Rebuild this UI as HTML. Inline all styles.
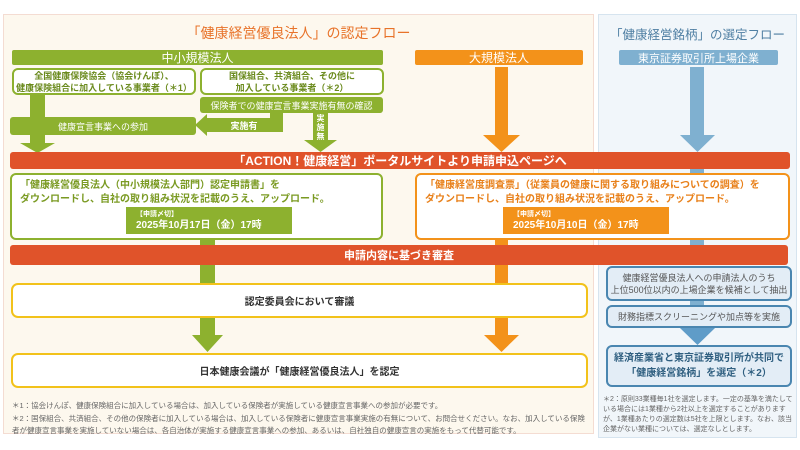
<!DOCTYPE html>
<html><head><meta charset="utf-8"><style>
body{margin:0;width:800px;height:450px;background:#fff;position:relative;overflow:hidden;font-family:"Liberation Sans","Noto Sans CJK JP",sans-serif;}
div{position:absolute;box-sizing:border-box;}
.c{display:flex;align-items:center;justify-content:center;text-align:center;}
.g{background:#8db12f;color:#fff;}
.o{background:#f3921a;color:#fff;}
.r{background:#e0532a;color:#fff;font-weight:bold;border-radius:3px;}
.b{background:#7fb0d0;color:#fff;}
.wg{background:#fff;border:2px solid #8db12f;border-radius:6px;color:#6a8a1c;font-weight:bold;font-size:9px;line-height:12px;}
.yb{background:#fff;border:2.5px solid #f2c21a;border-radius:7px;font-size:10px;font-weight:bold;color:#333;}
.bb{background:#e3edf6;border:2.5px solid #4a86b0;border-radius:6px;color:#555;font-size:9px;line-height:12px;}
</style></head><body>
<div style="left:3px;top:14px;width:591px;height:420px;background:#fdf8ee;border:1.5px solid #f4dcd2;"></div>
<div style="left:598px;top:14px;width:199px;height:424px;background:#f1f6fa;border:1.5px solid #d6e4ef;"></div>
<div class="c" style="left:3px;top:22px;width:591px;height:22px;color:#e8732a;font-size:14px;">「健康経営優良法人」の認定フロー</div>
<div class="c" style="left:598px;top:22px;width:199px;height:22px;color:#4f7fa3;font-size:12.5px;white-space:nowrap;">「健康経営銘柄」の選定フロー</div>

<div class="g c" style="left:12px;top:50px;width:371px;height:15px;font-size:12px;border-radius:2px;">中小規模法人</div>
<div class="wg c" style="left:12px;top:68px;width:184px;height:27px;">全国健康保険協会（協会けんぽ）、<br>健康保険組合に加入している事業者（＊1）</div>
<div class="wg c" style="left:200px;top:68px;width:184px;height:27px;">国保組合、共済組合、その他に<br>加入している事業者（＊2）</div>
<div class="g c" style="left:200px;top:97px;width:183px;height:16px;font-size:9px;border-radius:3px;">保険者での健康宣言事業実施有無の確認</div>
<div class="g c" style="left:10px;top:117px;width:186px;height:18px;font-size:9px;border-radius:3px;">健康宣言事業への参加</div>
<div class="g" style="left:270px;top:113px;width:13px;height:19px;"></div>
<div class="g c" style="left:205px;top:118px;width:78px;height:14px;font-size:9px;font-weight:bold;">実施有</div>
<svg style="position:absolute;left:195px;top:114px" width="12" height="22"><polygon points="0,11 12,0 12,22" fill="#8db12f"/></svg>
<div class="g c" style="left:313px;top:113px;width:15px;height:28px;font-size:8px;line-height:9px;font-weight:bold;">実<br>施<br>無</div>
<svg style="position:absolute;left:304px;top:140px" width="33" height="12"><polygon points="0,0 33,0 16.5,12" fill="#8db12f"/></svg>
<div class="g" style="left:30px;top:95px;width:15px;height:48px;"></div>
<svg style="position:absolute;left:20px;top:143px" width="35" height="10"><polygon points="0,0 35,0 17.5,10" fill="#8db12f"/></svg>

<div class="o c" style="left:415px;top:50px;width:168px;height:15px;font-size:12px;border-radius:2px;">大規模法人</div>
<div class="o" style="left:495px;top:67px;width:13px;height:68px;"></div>
<svg style="position:absolute;left:483px;top:135px" width="37" height="17"><polygon points="0,0 37,0 18.5,17" fill="#f3921a"/></svg>
<div class="b c" style="left:619px;top:50px;width:159px;height:15px;font-size:11px;border-radius:2px;">東京証券取引所上場企業</div>
<div class="b" style="left:690px;top:67px;width:14px;height:68px;"></div>
<svg style="position:absolute;left:680px;top:135px" width="35" height="17"><polygon points="0,0 35,0 17.5,17" fill="#7fb0d0"/></svg>

<div class="r c" style="left:10px;top:152px;width:780px;height:17px;font-size:12px;">「ACTION！健康経営」ポータルサイトより申請申込ページへ</div>
<div class="g" style="left:200px;top:239px;width:15px;height:8px;"></div>
<div class="o" style="left:495px;top:239px;width:13px;height:8px;"></div>
<div class="b" style="left:690px;top:169px;width:14px;height:78px;"></div>
<div class="wg" style="left:10px;top:173px;width:373px;height:67px;padding:4px 8px;font-size:10px;line-height:14px;color:#7a9a22;">「健康経営優良法人（中小規模法人部門）認定申請書」を<br>ダウンロードし、自社の取り組み状況を記載のうえ、アップロード。</div>
<div class="g" style="left:126px;top:207px;width:166px;height:27px;font-size:7px;line-height:9px;padding:3px 0 0 10px;font-weight:bold;">【申請〆切】<br><span style="font-size:10px;line-height:13px;">2025年10月17日（金）17時</span></div>
<div class="wg" style="left:415px;top:173px;width:375px;height:67px;padding:4px 8px;font-size:10px;line-height:14px;border-color:#f3921a;color:#e8801a;">「健康経営度調査票」（従業員の健康に関する取り組みについての調査）を<br>ダウンロードし、自社の取り組み状況を記載のうえ、アップロード。</div>
<div class="o" style="left:503px;top:207px;width:166px;height:27px;font-size:7px;line-height:9px;padding:3px 0 0 10px;font-weight:bold;">【申請〆切】<br><span style="font-size:10px;line-height:13px;">2025年10月10日（金）17時</span></div>

<div class="r c" style="left:10px;top:245px;width:778px;height:20px;font-size:11px;">申請内容に基づき審査</div>
<div class="g" style="left:200px;top:265px;width:15px;height:20px;"></div>
<div class="o" style="left:495px;top:265px;width:13px;height:20px;"></div>
<div class="yb c" style="left:11px;top:283px;width:577px;height:35px;">認定委員会において審議</div>
<div class="g" style="left:200px;top:318px;width:15px;height:18px;"></div>
<svg style="position:absolute;left:192px;top:335px" width="31" height="17"><polygon points="0,0 31,0 15.5,17" fill="#8db12f"/></svg>
<div class="o" style="left:495px;top:318px;width:13px;height:18px;"></div>
<svg style="position:absolute;left:484px;top:335px" width="35" height="17"><polygon points="0,0 35,0 17.5,17" fill="#f3921a"/></svg>
<div class="yb c" style="left:11px;top:353px;width:577px;height:35px;">日本健康会議が「健康経営優良法人」を認定</div>
<div style="left:12px;top:400px;width:580px;font-size:7.5px;line-height:12.5px;color:#666;">＊1：協会けんぽ、健康保険組合に加入している場合は、加入している保険者が実施している健康宣言事業への参加が必要です。<br>＊2：国保組合、共済組合、その他の保険者に加入している場合は、加入している保険者に健康宣言事業実施の有無について、お問合せください。なお、加入している保険者が健康宣言事業を実施していない場合は、各自治体が実施する健康宣言事業への参加、あるいは、自社独自の健康宣言の実施をもって代替可能です。</div>

<div class="bb c" style="left:606px;top:266px;width:186px;height:35px;">健康経営優良法人への申請法人のうち<br>上位500位以内の上場企業を候補として抽出</div>
<div class="b" style="left:690px;top:301px;width:14px;height:4px;"></div>
<div class="bb c" style="left:606px;top:305px;width:186px;height:23px;">財務指標スクリーニングや加点等を実施</div>
<svg style="position:absolute;left:680px;top:328px" width="35" height="17"><polygon points="0,0 35,0 17.5,17" fill="#5f9cc8"/></svg>
<div class="bb c" style="left:606px;top:345px;width:186px;height:42px;font-size:10px;line-height:15px;font-weight:bold;color:#2f5f80;">経済産業省と東京証券取引所が共同で<br>「健康経営銘柄」を選定（＊2）</div>
<div style="left:603px;top:395px;width:194px;font-size:7px;line-height:10px;color:#666;">＊2：原則33業種毎1社を選定します。一定の基準を満たしている場合には1業種から2社以上を選定することがありますが、1業種あたりの選定数は5社を上限とします。なお、該当企業がない業種については、選定なしとします。</div>
</body></html>
